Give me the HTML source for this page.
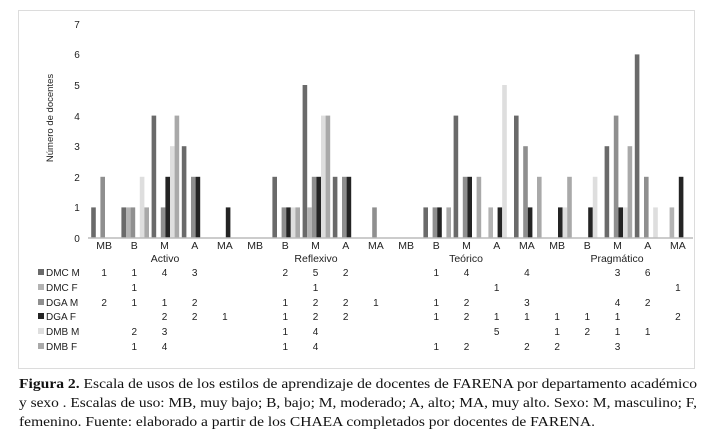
<!DOCTYPE html>
<html><head><meta charset="utf-8">
<style>
html,body{margin:0;padding:0;background:#fff;}
svg{display:block;}
</style></head>
<body>
<svg id="s" width="710" height="442" viewBox="0 0 710 442" xmlns="http://www.w3.org/2000/svg" font-family="'Liberation Sans', Arial, sans-serif">
<rect x="18.5" y="10.5" width="676" height="358" fill="#fff" stroke="#dcdcdc" stroke-width="1"/>
<g font-size="10" fill="#222" text-anchor="middle">
<text x="77" y="28">7</text>
<text x="77" y="58">6</text>
<text x="77" y="89">5</text>
<text x="77" y="120">4</text>
<text x="77" y="150">3</text>
<text x="77" y="181">2</text>
<text x="77" y="211">1</text>
<text x="77" y="242">0</text>
</g>
<text transform="translate(53,118) rotate(-90)" font-size="9.5" fill="#222" text-anchor="middle">Número de docentes</text>
<g id="bars"></g>
<line x1="88" y1="238" x2="693" y2="238" stroke="#bbb" stroke-width="1.5"/>
<g id="xl" font-size="10.5" fill="#222" text-anchor="middle"></g>
<g font-size="10.5" fill="#222" text-anchor="middle">
<text x="165" y="262">Activo</text>
<text x="316" y="262">Reflexivo</text>
<text x="466" y="262">Teórico</text>
<text x="617" y="262">Pragmático</text>
</g>
<g id="tbl" font-size="10" fill="#222"></g>
<g font-family="'Liberation Serif', 'Times New Roman', serif" font-size="14" fill="#111">
<text x="19" y="388" textLength="678" lengthAdjust="spacingAndGlyphs"><tspan font-weight="bold">Figura 2.</tspan> Escala de usos de los estilos de aprendizaje de docentes de FARENA por departamento académico</text>
<text x="19" y="407" textLength="678" lengthAdjust="spacingAndGlyphs">y sexo . Escalas de uso: MB, muy bajo; B, bajo; M, moderado; A, alto; MA, muy alto. Sexo: M, masculino; F,</text>
<text x="19" y="426" textLength="576" lengthAdjust="spacingAndGlyphs">femenino. Fuente: elaborado a partir de los CHAEA completados por docentes de FARENA.</text>
</g>
</svg>
<script>
var N=null;
var names=["DMC M","DMC F","DGA M","DGA F","DMB M","DMB F"];
var cols=["#6a6a6a","#b3b3b3","#8f8f8f","#242424","#dedede","#a9a9a9"];
var data=[
 [1,1,4,3,N, N,2,5,2,N, N,1,4,N,4, N,N,3,6,N],
 [N,1,N,N,N, N,N,1,N,N, N,N,N,1,N, N,N,N,N,1],
 [2,1,1,2,N, N,1,2,2,1, N,1,2,N,3, N,N,4,2,N],
 [N,N,2,2,1, N,1,2,2,N, N,1,2,1,1, 1,1,1,N,2],
 [N,2,3,N,N, N,1,4,N,N, N,N,N,5,N, 1,2,1,1,N],
 [N,1,4,N,N, N,1,4,N,N, N,1,2,N,2, 2,N,3,N,N]
];
var labs=["MB","B","M","A","MA"];
var ns="http://www.w3.org/2000/svg";
function el(t,a,p,txt){var e=document.createElementNS(ns,t);for(var k in a)e.setAttribute(k,a[k]);if(txt!=null)e.textContent=txt;p.appendChild(e);return e;}
var bars=document.getElementById("bars"),xl=document.getElementById("xl"),tbl=document.getElementById("tbl");
var cw=30.2,x0=89,u=30.6,base=238;
for(var c=0;c<20;c++){
  var cx=x0+c*cw+cw/2;
  el("text",{x:cx,y:249},xl,labs[c%5]);
  for(var i=0;i<6;i++){
    var v=data[i][c];
    if(v){var bx=x0+c*cw+2.2+i*4.6;el("rect",{x:bx.toFixed(2),y:(base-v*u).toFixed(1),width:4.6,height:(v*u).toFixed(1),fill:cols[i]},bars);}
  }
}
var ry=[276,291,306,320,335,350];
for(var i=0;i<6;i++){
  el("rect",{x:38,y:ry[i]-7,width:6,height:6,fill:cols[i]},tbl);
  el("text",{x:46,y:ry[i]},tbl,names[i]);
  for(var c=0;c<20;c++){var v=data[i][c];if(v!=null)el("text",{x:x0+c*cw+cw/2,y:ry[i],"text-anchor":"middle"},tbl,String(v));}
}
</script>
</body></html>
